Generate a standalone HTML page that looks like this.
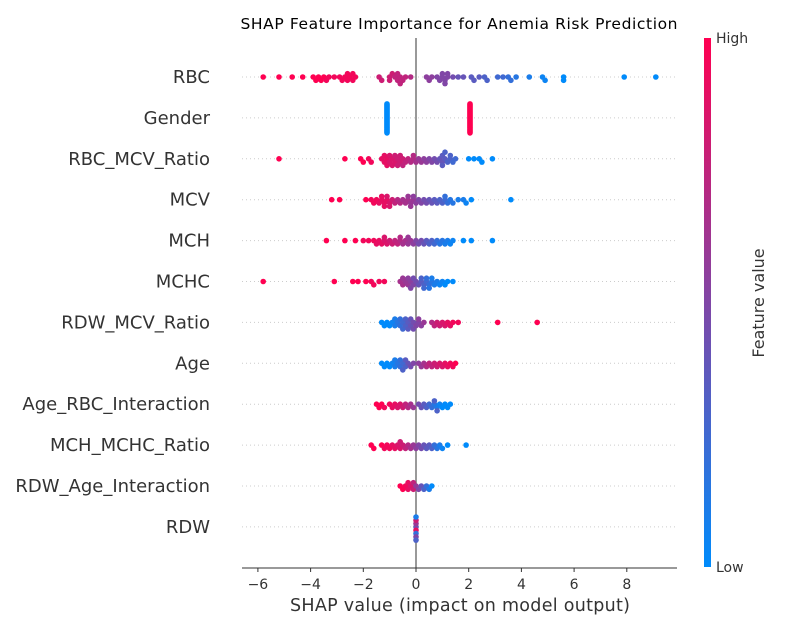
<!DOCTYPE html>
<html><head><meta charset="utf-8"><style>
html,body{margin:0;padding:0;background:#fff;}
svg{display:block;font-family:"DejaVu Sans","Liberation Sans",sans-serif;}
</style></head><body>
<svg id="chart" width="800" height="630" viewBox="0 0 800 630">
<defs><linearGradient id="cb" x1="0" y1="1" x2="0" y2="0"><stop offset="0" stop-color="#008bfb"/><stop offset="0.5" stop-color="#8046a6"/><stop offset="1" stop-color="#ff0051"/></linearGradient></defs>
<text x="459" y="29" text-anchor="middle" font-size="15.5" fill="#000" textLength="437">SHAP Feature Importance for Anemia Risk Prediction</text>
<g id="grid"></g>
<line x1="416" y1="38" x2="416" y2="568" stroke="#999" stroke-width="2"/>
<g id="points"></g>
<g id="ylabels"></g>
<line x1="242" y1="568" x2="677" y2="568" stroke="#333" stroke-width="1"/>
<g id="xticks"></g>
<text x="460" y="611" text-anchor="middle" font-size="17.5" fill="#333" textLength="340">SHAP value (impact on model output)</text>
<rect x="704" y="38" width="7" height="529" fill="url(#cb)"/>
<text x="716" y="43" font-size="14" fill="#333">High</text>
<text x="716" y="572" font-size="14" fill="#333">Low</text>
<text transform="translate(764,303) rotate(-90)" text-anchor="middle" font-size="16" fill="#333">Feature value</text>
</svg>
<script>
const features = ["RBC","Gender","RBC_MCV_Ratio","MCV","MCH","MCHC","RDW_MCV_Ratio","Age","Age_RBC_Interaction","MCH_MCHC_Ratio","RDW_Age_Interaction","RDW"];
const xTicks = [-6,-4,-2,0,2,4,6,8];
const rbcShap = [-5.8,-5.2,-4.7,-4.3,-3.9,-3.8,-3.7,-3.6,-3.5,-3.4,-3.3,-3.1,-2.9,-2.8,-2.7,-2.6,-2.6,-2.5,-2.4,-2.4,-2.3,-1.4,-1.3,-1.0,-1.0,-0.9,-0.8,-0.7,-0.7,-0.6,-0.6,-0.5,-0.4,-0.2,0.4,0.5,0.6,0.8,0.9,1.0,1.0,1.1,1.1,1.2,1.2,1.4,1.6,1.8,2.1,2.2,2.4,2.6,2.7,3.1,3.3,3.5,3.6,3.8,4.3,4.8,4.9,5.6,5.6,7.9,9.1];
const rbcFeat = [1,1,1,1,1,1,1,1,1,.95,.95,.95,.95,.95,.95,.95,.95,.95,.95,.95,.95,.8,.8,.8,.8,.8,.75,.75,.75,.75,.75,.75,.75,.7,.55,.55,.55,.5,.5,.5,.5,.5,.5,.5,.5,.45,.4,.4,.35,.35,.35,.3,.3,.25,.25,.2,.2,.15,.1,.05,.05,0,0,0,0];
const genderShap = [-1.1,-1.1,-1.1,-1.1,-1.1,-1.1,-1.1,-1.1,-1.1,-1.1,-1.1,-1.1,-1.1,-1.1,-1.1,-1.1,-1.1,-1.1,-1.1,-1.1,-1.1,-1.1,-1.1,-1.1,-1.1,-1.1,-1.1,-1.1,-1.1,-1.1,2.05,2.05,2.05,2.05,2.05,2.05,2.05,2.05,2.05,2.05,2.05,2.05,2.05,2.05,2.05,2.05,2.05,2.05,2.05,2.05,2.05,2.05,2.05,2.05,2.05,2.05,2.05,2.05,2.05,2.05];
const genderFeat = [0,0,0,0,0,0,0,0,0,0,0,0,0,0,0,0,0,0,0,0,0,0,0,0,0,0,0,0,0,0,1,1,1,1,1,1,1,1,1,1,1,1,1,1,1,1,1,1,1,1,1,1,1,1,1,1,1,1,1,1];
const rmrShap = [-5.2,-2.7,-2.1,-2.0,-1.8,-1.7,-1.3,-1.2,-1.2,-1.1,-1.1,-1.0,-1.0,-0.9,-0.9,-0.8,-0.8,-0.7,-0.7,-0.6,-0.6,-0.5,-0.5,-0.4,-0.3,-0.2,-0.1,-0.1,0.0,0.1,0.2,0.3,0.4,0.5,0.6,0.7,0.8,0.9,1.0,1.0,1.0,1.1,1.1,1.2,1.3,1.3,1.4,1.5,2.0,2.2,2.4,2.5,2.9];
const rmrFeat = [1,1,1,1,.95,.95,.9,.9,.9,.9,.9,.85,.85,.85,.85,.85,.8,.8,.8,.8,.8,.8,.75,.75,.75,.7,.7,.7,.65,.6,.6,.55,.55,.5,.5,.45,.45,.4,.4,.35,.35,.35,.3,.3,.3,.3,.25,.25,0,0,0,0,0];
const mcvShap = [-3.2,-2.9,-1.9,-1.7,-1.6,-1.5,-1.4,-1.3,-1.3,-1.2,-1.2,-1.1,-1.1,-1.0,-1.0,-0.9,-0.8,-0.7,-0.6,-0.5,-0.4,-0.3,-0.3,-0.2,-0.2,-0.1,-0.1,0.0,0.1,0.2,0.3,0.4,0.5,0.6,0.7,0.8,0.9,1.0,1.1,1.1,1.2,1.3,1.4,1.6,1.8,1.9,2.1,3.6];
const mcvFeat = [1,1,1,.95,.95,.95,.9,.9,.9,.9,.9,.9,.85,.85,.85,.8,.75,.7,.7,.65,.65,.65,.6,.6,.6,.6,.55,.55,.5,.5,.45,.45,.4,.4,.35,.35,.3,.3,.25,.2,.2,.15,.15,.1,.1,.05,0,0];
const mchShap = [-3.4,-2.7,-2.3,-2.0,-1.8,-1.6,-1.5,-1.4,-1.3,-1.2,-1.2,-1.1,-1.0,-0.9,-0.8,-0.7,-0.6,-0.6,-0.5,-0.4,-0.3,-0.3,-0.2,-0.1,0.0,0.1,0.2,0.3,0.4,0.5,0.6,0.7,0.8,0.9,1.0,1.1,1.2,1.3,1.4,1.8,2.1,2.9];
const mchFeat = [1,1,1,.95,.95,.95,.9,.9,.9,.85,.85,.85,.8,.8,.75,.75,.7,.7,.65,.65,.6,.6,.6,.55,.5,.45,.45,.4,.35,.3,.3,.25,.2,.15,.15,.1,.1,.05,.05,0,0,0];
const mchcShap = [-5.8,-3.1,-2.4,-2.2,-1.9,-1.7,-1.6,-1.4,-1.2,-0.6,-0.5,-0.5,-0.4,-0.3,-0.3,-0.2,-0.2,-0.1,-0.1,0.0,0.1,0.2,0.2,0.3,0.3,0.4,0.4,0.5,0.5,0.6,0.6,0.7,0.8,0.9,1.0,1.1,1.2,1.4];
const mchcFeat = [1,1,1,1,1,.95,.95,.95,.95,.65,.65,.6,.6,.6,.55,.55,.5,.5,.45,.45,.4,.35,.3,.3,.25,.25,.2,.2,.15,.15,.1,.1,.1,.05,.05,0,0,0];
const rdwmcvShap = [-1.3,-1.2,-1.1,-1.0,-0.9,-0.8,-0.8,-0.7,-0.6,-0.6,-0.5,-0.5,-0.4,-0.4,-0.3,-0.3,-0.2,-0.2,-0.1,-0.1,0.0,0.1,0.1,0.2,0.3,0.6,0.7,0.8,0.9,1.0,1.1,1.2,1.3,1.4,1.6,3.1,4.6];
const rdwmcvFeat = [0,0,0,0,.05,.1,.1,.15,.2,.2,.25,.25,.3,.3,.35,.35,.4,.4,.45,.45,.5,.5,.55,.55,.6,.7,.75,.8,.8,.85,.85,.9,.9,.95,.95,1,1];
const ageShap = [-1.3,-1.2,-1.1,-1.0,-0.9,-0.8,-0.8,-0.7,-0.6,-0.6,-0.5,-0.5,-0.4,-0.4,-0.3,-0.2,-0.1,0.1,0.2,0.3,0.4,0.5,0.6,0.7,0.8,0.9,1.0,1.1,1.2,1.3,1.4,1.5];
const ageFeat = [0,0,0,0,.05,.1,.1,.15,.2,.2,.25,.3,.3,.35,.4,.45,.5,.55,.6,.65,.7,.75,.75,.8,.8,.85,.85,.9,.9,.95,.95,1];
const arShap = [-1.5,-1.4,-1.3,-1.2,-1.0,-0.9,-0.8,-0.7,-0.6,-0.5,-0.4,-0.3,-0.2,-0.1,0.1,0.2,0.3,0.4,0.5,0.6,0.7,0.8,0.9,1.0,1.1,1.2,1.3,0.7,0.8];
const arFeat = [1,1,1,.95,.95,.9,.9,.85,.85,.8,.75,.7,.65,.6,.45,.4,.35,.3,.25,.2,.15,.1,.05,0,0,0,0,.3,.3];
const mmShap = [-1.7,-1.6,-1.3,-1.2,-1.1,-1.0,-0.9,-0.8,-0.7,-0.6,-0.6,-0.5,-0.4,-0.3,-0.2,-0.1,0.0,0.1,0.2,0.3,0.4,0.5,0.6,0.7,0.8,0.9,1.0,1.2,1.9];
const mmFeat = [1,1,1,.95,.95,.95,.9,.9,.85,.85,.8,.8,.75,.7,.65,.6,.55,.5,.45,.4,.35,.35,.3,.2,.15,.1,.05,0,0];
const raShap = [-0.6,-0.5,-0.4,-0.3,-0.3,-0.2,-0.1,-0.1,0.0,0.1,0.2,0.3,0.4,0.5,0.6];
const raFeat = [1,1,.95,.9,.9,.85,.8,.75,.6,.5,.4,.3,.2,.1,0];
const rdwShap = [0,0,0,0,0,0,0,0];
const rdwFeat = [.4,.9,.6,.2,.8,.5,.1,.3];

const shapRows = [rbcShap,genderShap,rmrShap,mcvShap,mchShap,mchcShap,rdwmcvShap,ageShap,arShap,mmShap,raShap,rdwShap];
const featRows = [rbcFeat,genderFeat,rmrFeat,mcvFeat,mchFeat,mchcFeat,rdwmcvFeat,ageFeat,arFeat,mmFeat,raFeat,rdwFeat];

const NS="http://www.w3.org/2000/svg";
function xScale(v){return 416+v*26.35;}
function rowY(i){return 77+i*40.9;}
function color(f){
  const lo=[0,139,251], mid=[128,70,166], hi=[255,0,81];
  let a,b,t;
  if(f<0.5){a=lo;b=mid;t=f/0.5;}else{a=mid;b=hi;t=(f-0.5)/0.5;}
  return "rgb("+a.map((c,k)=>Math.round(c+(b[k]-c)*t)).join(",")+")";
}
const grid=document.getElementById("grid"), pts=document.getElementById("points"), yl=document.getElementById("ylabels"), xt=document.getElementById("xticks");
features.forEach((name,i)=>{
  const y=rowY(i);
  const g=document.createElementNS(NS,"line");
  g.setAttribute("x1",242);g.setAttribute("x2",677);g.setAttribute("y1",y);g.setAttribute("y2",y);
  g.setAttribute("stroke","#ccc");g.setAttribute("stroke-dasharray","1,3");
  
  
  grid.appendChild(g);
  const t=document.createElementNS(NS,"text");
  t.setAttribute("x",210);t.setAttribute("y",y+6);t.setAttribute("text-anchor","end");
  t.setAttribute("font-size","18");t.setAttribute("fill","#333");t.textContent=name;
  
  
  yl.appendChild(t);
  // greedy swarm layout
  const s=shapRows[i], f=featRows[i];
  const px=s.map(xScale);
  const layers=new Array(s.length).fill(0);
  const placed=[];
  s.forEach((v,k)=>{
    for(let n=0;n<200;n++){
      const L=Math.ceil(n/2)*((n%2)?1:-1);
      if(!placed.some(p=>p.L===L && Math.abs(p.x-px[k])<5)){
        layers[k]=L;placed.push({L:L,x:px[k]});break;
      }
    }
  });
  const mxy=Math.max(...layers.map(Math.abs));
  const scale=Math.min(3.3, 15/(mxy||1));
  s.forEach((v,k)=>{
    const c=document.createElementNS(NS,"circle");
    c.setAttribute("cx",px[k].toFixed(1));
    c.setAttribute("cy",(y+layers[k]*scale).toFixed(1));
    c.setAttribute("r",2.8);
    c.setAttribute("fill",color(f[k]));
    
    
    pts.appendChild(c);
  });
});
xTicks.forEach(v=>{
  const x=xScale(v);
  const l=document.createElementNS(NS,"line");
  l.setAttribute("x1",x);l.setAttribute("x2",x);l.setAttribute("y1",568);l.setAttribute("y2",572);l.setAttribute("stroke","#333");
  
  
  xt.appendChild(l);
  const t=document.createElementNS(NS,"text");
  t.setAttribute("x",x);t.setAttribute("y",589);t.setAttribute("text-anchor","middle");
  t.setAttribute("font-size","14");t.setAttribute("fill","#333");
  t.textContent=(v<0?"\u2212"+(-v):String(v));
  
  
  xt.appendChild(t);
});
</script>
</body></html>
